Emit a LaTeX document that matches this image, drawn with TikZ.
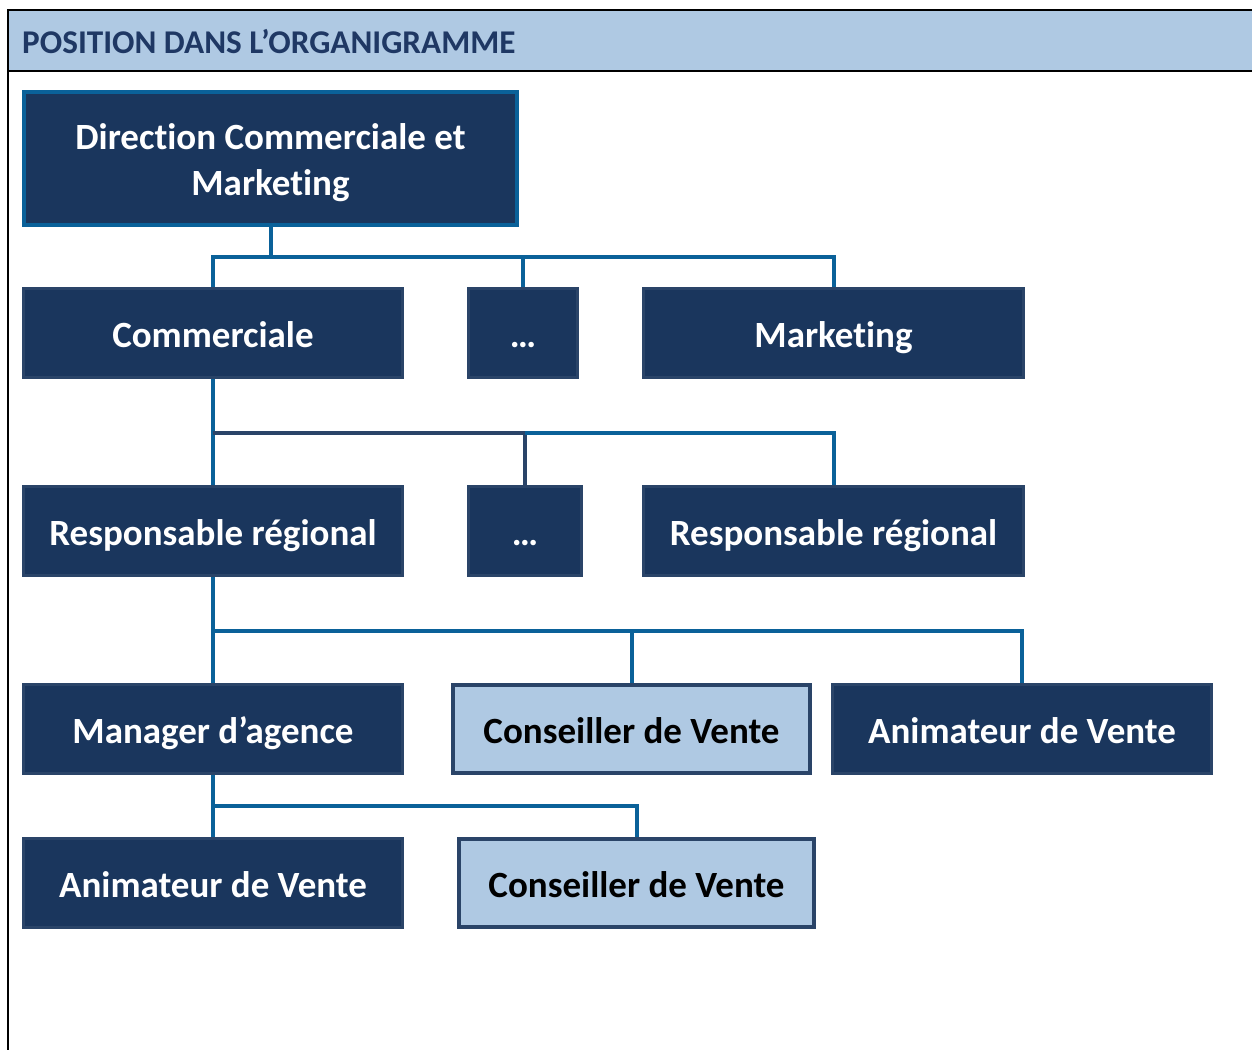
\documentclass[tikz,border=0pt]{standalone}
\usepackage{fontspec}
\setmainfont{Carlito}[Ligatures=CommonOff]
\definecolor{navy}{HTML}{1A365D}
\definecolor{navyedge}{HTML}{2A4468}
\definecolor{linkblue}{HTML}{0A6199}
\definecolor{paleblue}{HTML}{AFC9E3}
\definecolor{headtext}{HTML}{1F3864}
\tikzset{
  box/.style={rectangle, inner sep=0pt, line width=3pt, text height=30pt, text depth=2pt,
    font=\bfseries\fontsize{37}{46}\selectfont, align=center},
  darkbox/.style={box, fill=navy, draw=navyedge, text=white},
  lightbox/.style={box, fill=paleblue, draw=navyedge, line width=4pt, text=black},
  topbox/.style={box, fill=navy, draw=linkblue, line width=4pt, text=white, text height=76pt},
  link/.style={draw=linkblue, line width=4pt},
  darklink/.style={draw=navyedge, line width=4pt},
}
\begin{document}
\begin{tikzpicture}[x=1pt,y=-1pt]
\useasboundingbox (0,0) rectangle (1252,1050);
% header band and frame
\fill[paleblue] (8,10) rectangle (1252,71);
\draw[black, line width=2pt] (1252,10) -- (8,10) -- (8,1050);
\draw[black, line width=2pt] (8,71) -- (1252,71);
\node[anchor=west, text=headtext, font=\bfseries\fontsize{33.2}{40}\selectfont, inner sep=0pt] (title) at (22,41.5) {POSITION DANS L’ORGANIGRAMME};

% level 0
\node[topbox, minimum width=493pt, minimum height=133pt] (dir) at (270.5,158.5) {Direction Commerciale et\\Marketing};
% level 1
\node[darkbox, minimum width=379pt, minimum height=89pt] (com) at (213,333) {Commerciale};
\node[darkbox, minimum width=109pt, minimum height=89pt] (d1) at (523,333) {…};
\node[darkbox, minimum width=380pt, minimum height=89pt] (mkt) at (833.5,333) {Marketing};
% level 2
\node[darkbox, minimum width=379pt, minimum height=89pt] (rr1) at (213,531) {Responsable régional};
\node[darkbox, minimum width=113pt, minimum height=89pt] (d2) at (525,531) {…};
\node[darkbox, minimum width=380pt, minimum height=89pt] (rr2) at (833.5,531) {Responsable régional};
% level 3
\node[darkbox, minimum width=379pt, minimum height=89pt] (mgr) at (213,729) {Manager d’agence};
\node[lightbox, minimum width=357pt, minimum height=88pt] (cv1) at (631.5,729) {Conseiller de Vente};
\node[darkbox, minimum width=379pt, minimum height=89pt] (av1) at (1022,729) {Animateur de Vente};
% level 4
\node[darkbox, minimum width=379pt, minimum height=89pt] (av2) at (213,883) {Animateur de Vente};
\node[lightbox, minimum width=355pt, minimum height=88pt] (cv2) at (636.5,883) {Conseiller de Vente};

% junction rails
\coordinate (j1) at (271,257);
\coordinate (j2) at (213,433);
\coordinate (j3) at (213,631);
\coordinate (j4) at (213,806);

% connectors
\draw[link] (dir.south) -- (dir.south |- j1);
\draw[link] (com.north) -- (com.north |- j1) -- (mkt.north |- j1) -- (mkt.north);
\draw[link] (d1.north) -- (d1.north |- j1);

\draw[link] (com.south) -- (rr1.north);
\draw[darklink] (j2) -- (d2.north |- j2) -- (d2.north);
\draw[link] (d2.north |- j2) -- (rr2.north |- j2) -- (rr2.north);

\draw[link] (rr1.south) -- (mgr.north);
\draw[link] (j3) -- (av1.north |- j3) -- (av1.north);
\draw[link] (cv1.north |- j3) -- (cv1.north);

\draw[link] (mgr.south) -- (av2.north);
\draw[link] (j4) -- (cv2.north |- j4) -- (cv2.north);
\end{tikzpicture}
\end{document}
